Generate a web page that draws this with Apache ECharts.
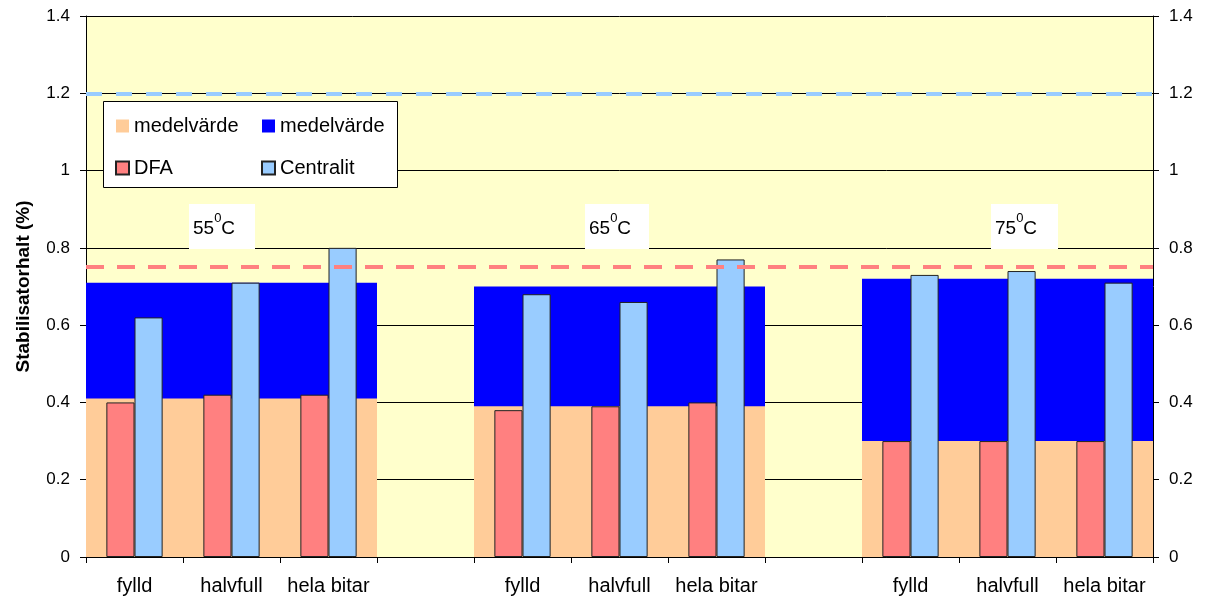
<!DOCTYPE html>
<html>
<head>
<meta charset="utf-8">
<script src="https://cdn.jsdelivr.net/npm/echarts@6/dist/echarts.min.js"></script>
<style>
  html, body { margin: 0; padding: 0; background: #ffffff; }
  #chart { width: 1207px; height: 603px; }
</style>
</head>
<body>
<div id="chart"></div>
<script>
// Sample types, repeated for each temperature group (blank slot between groups)
const categories = ['fylld', 'halvfull', 'hela bitar', '', 'fylld', 'halvfull', 'hela bitar', '', 'fylld', 'halvfull', 'hela bitar'];

// Stabiliser content per sample (%)
const dfaValues       = [0.40, 0.42, 0.42, null, 0.38, 0.39, 0.40, null, 0.30, 0.30, 0.30];
const centralitValues = [0.62, 0.71, 0.80, null, 0.68, 0.66, 0.77, null, 0.73, 0.74, 0.71];

// Mean values per temperature group (drawn as wide background bands)
const dfaMean       = [0.41, 0.41, 0.41, null, 0.39, 0.39, 0.39, null, 0.30, 0.30, 0.30];
const centralitMean = [0.71, 0.71, 0.71, null, 0.70, 0.70, 0.70, null, 0.72, 0.72, 0.72];

// Reference limits
const centralitLimit = 1.2;
const dfaLimit = 0.75;

// Temperature group labels
const groupLabels = ['55', '65', '75'];

const FONT = '"Liberation Sans", Arial, sans-serif';

const chart = echarts.init(document.getElementById('chart'), null, { renderer: 'canvas' });

// White boxed temperature label with a superscript degree zero
function tempLabel(t, x, w) {
  return {
    type: 'group',
    left: x,
    top: 204,
    z: 50,
    children: [
      {
        type: 'rect',
        shape: { x: 0, y: 0, width: w, height: 45 },
        style: { fill: '#ffffff' },
        z: 50
      },
      {
        type: 'text',
        x: 4,
        y: 8,
        z: 51,
        style: {
          text: '{n|' + t + '}{s|0}{n|C}',
          rich: {
            n: { fontFamily: FONT, fontSize: 19, color: '#000', verticalAlign: 'bottom', lineHeight: 26 },
            s: { fontFamily: FONT, fontSize: 13, color: '#000', verticalAlign: 'top', lineHeight: 26, padding: [0, 0, 10, 0] }
          }
        }
      }
    ]
  };
}

const yAxisCommon = {
  type: 'value',
  min: 0,
  max: 1.4,
  interval: 0.2,
  axisLine: { show: true, lineStyle: { color: '#000', width: 1 } },
  axisTick: { show: true, length: 6, lineStyle: { color: '#000' } },
  axisLabel: { fontFamily: FONT, fontSize: 17, color: '#000', margin: 16 }
};

const legendCommon = {
  orient: 'vertical',
  icon: 'rect',
  itemWidth: 13, itemHeight: 13, itemGap: 22,
  formatter: n => n.startsWith('medelvärde') ? 'medelvärde' : n,
  textStyle: { fontFamily: FONT, fontSize: 20, color: '#000' },
  z: 60
};

chart.setOption({
  animation: false,
  textStyle: { fontFamily: FONT },
  grid: {
    left: 86, right: 54, top: 16, bottom: 46,
    show: true, backgroundColor: '#FFFFCC', borderWidth: 0
  },
  xAxis: [
    {
      type: 'category',
      data: categories,
      position: 'bottom',
      axisLine: { show: true, lineStyle: { color: '#000', width: 1 } },
      axisTick: { show: true, length: 6, lineStyle: { color: '#000' } },
      axisLabel: { fontFamily: FONT, fontSize: 20, color: '#000', margin: 19, interval: 0 }
    },
    {
      type: 'category',
      data: categories,
      position: 'bottom',
      show: false
    }
  ],
  yAxis: [
    Object.assign({}, yAxisCommon, {
      position: 'left',
      name: 'Stabilisatorhalt (%)',
      nameLocation: 'middle',
      nameGap: 53,
      nameTextStyle: { fontFamily: FONT, fontSize: 19, fontWeight: 'bold', color: '#000' },
      splitLine: { show: true, lineStyle: { color: '#000', width: 1 } }
    }),
    Object.assign({}, yAxisCommon, {
      position: 'right',
      splitLine: { show: false }
    })
  ],
  legend: [
    Object.assign({}, legendCommon, {
      left: 110, top: 111,
      data: ['medelvärde DFA', 'DFA']
    }),
    Object.assign({}, legendCommon, {
      left: 256, top: 111,
      data: ['medelvärde Centralit', 'Centralit']
    })
  ],
  graphic: [
    {
      type: 'rect',
      left: 103, top: 101,
      shape: { width: 294, height: 86 },
      style: { fill: '#ffffff', stroke: '#000', lineWidth: 1 },
      z: 40
    },
    tempLabel(groupLabels[0], 189, 66),
    tempLabel(groupLabels[1], 585, 64),
    tempLabel(groupLabels[2], 991, 67)
  ],
  series: [
    {
      name: 'medelvärde Centralit',
      type: 'bar',
      xAxisIndex: 1,
      data: centralitMean,
      barCategoryGap: 0,
      barGap: '-100%',
      itemStyle: { color: '#0000FF' },
      z: 1
    },
    {
      name: 'medelvärde DFA',
      type: 'bar',
      xAxisIndex: 1,
      data: dfaMean,
      barCategoryGap: 0,
      barGap: '-100%',
      itemStyle: { color: '#FFCC99' },
      z: 2
    },
    {
      name: 'DFA',
      type: 'bar',
      xAxisIndex: 0,
      data: dfaValues,
      barCategoryGap: '42%',
      barGap: 0,
      itemStyle: { color: '#FF8080', borderColor: '#222', borderWidth: 1 },
      z: 3,
      markLine: {
        symbol: 'none',
        silent: true,
        label: { show: false },
        lineStyle: { color: '#FF8080', type: [18, 13], width: 4 },
        data: [{ yAxis: dfaLimit }]
      }
    },
    {
      name: 'Centralit',
      type: 'bar',
      xAxisIndex: 0,
      data: centralitValues,
      barCategoryGap: '42%',
      barGap: 0,
      itemStyle: { color: '#99CCFF', borderColor: '#222', borderWidth: 1 },
      z: 3,
      markLine: {
        symbol: 'none',
        silent: true,
        label: { show: false },
        lineStyle: { color: '#99CCFF', type: [16, 14], width: 4 },
        data: [{ yAxis: centralitLimit }]
      }
    }
  ]
});
</script>
</body>
</html>
